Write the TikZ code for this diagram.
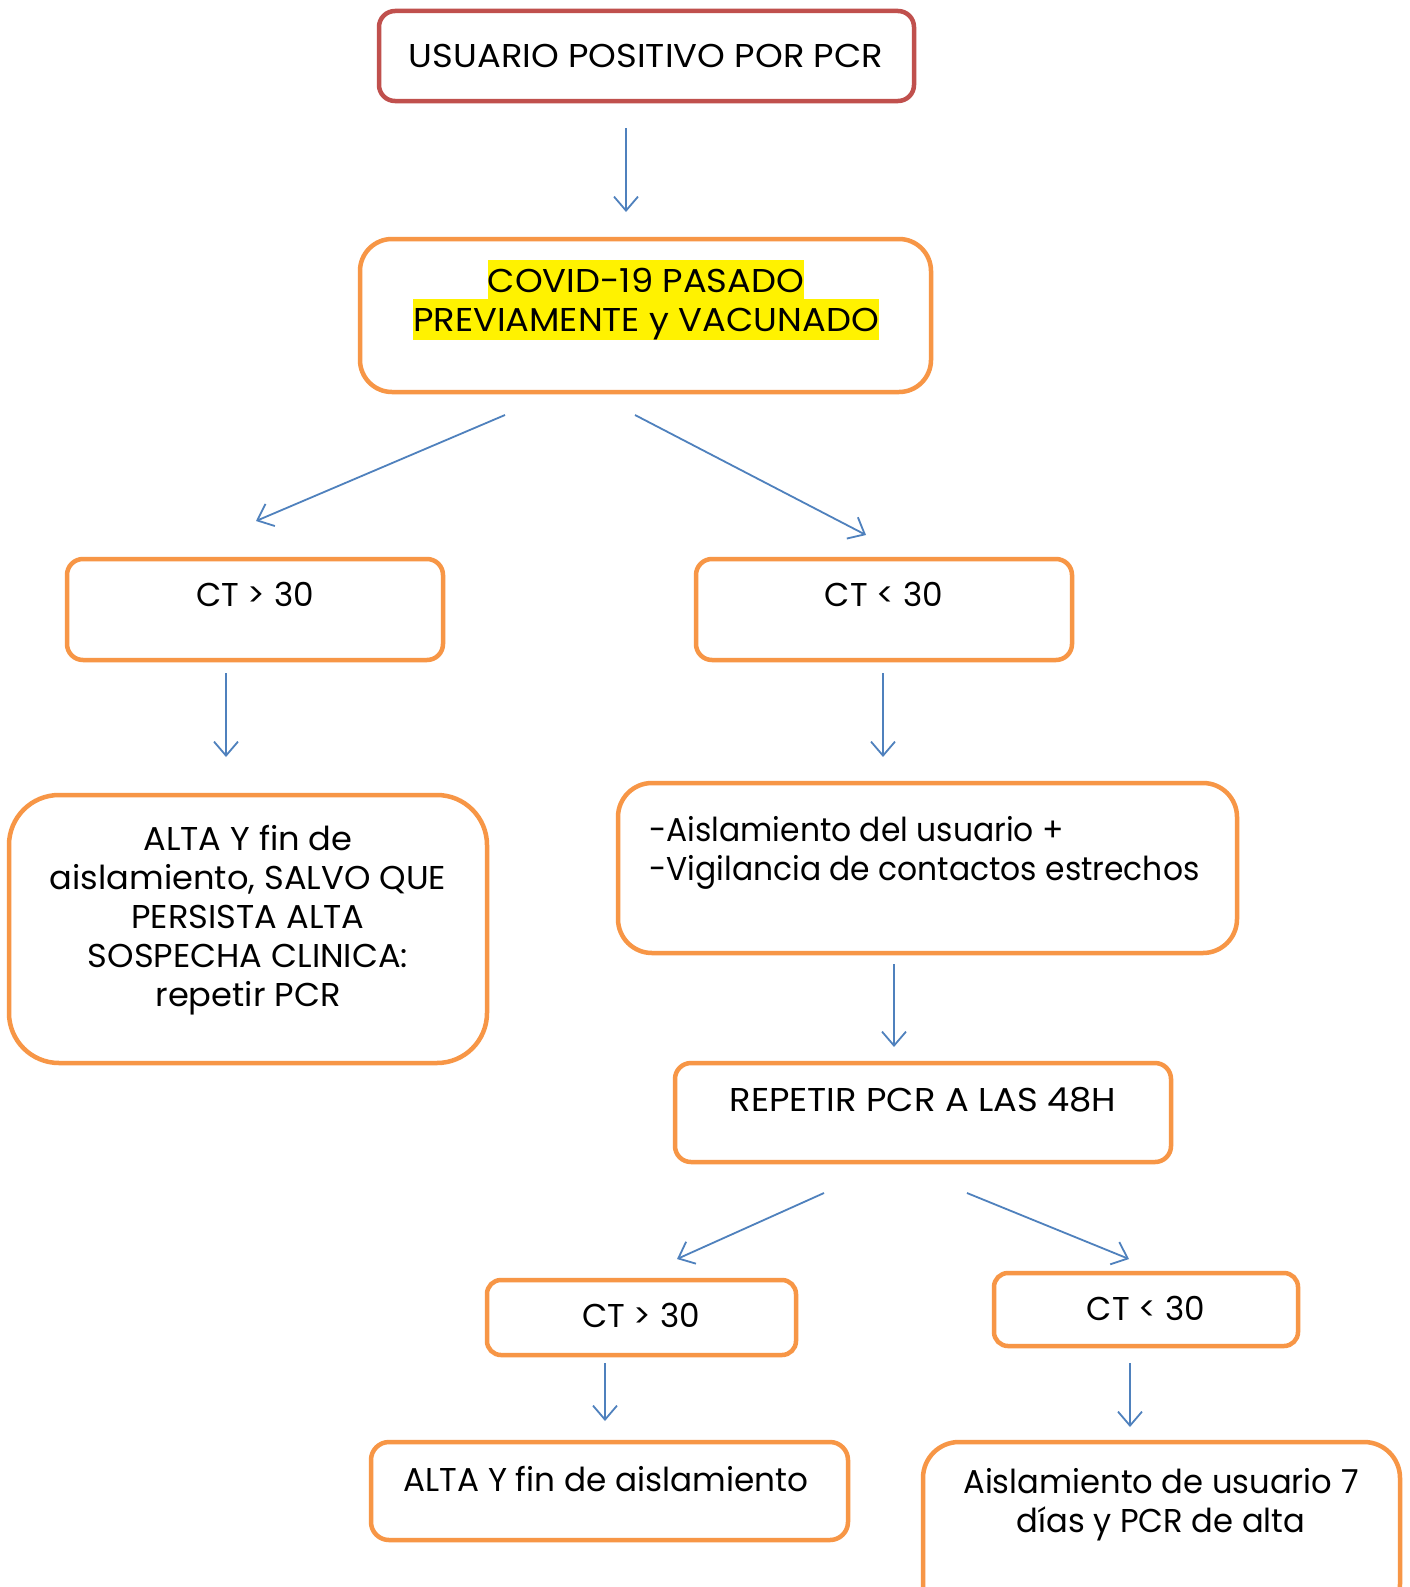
\documentclass[tikz,border=0pt]{standalone}
\usepackage{fontspec}
\setmainfont{Poppins}[FakeStretch=1.07]
\newfontfamily\fcaps{Poppins}[FakeStretch=1.07]
\newfontfamily\fmixA{Poppins}[FakeStretch=1.02]
\newfontfamily\fmixB{Poppins}[FakeStretch=0.99]
\newfontfamily\fmixC{Poppins}[FakeStretch=0.975]
\newfontfamily\flow{Poppins}[FakeStretch=0.95]
\usetikzlibrary{arrows.meta}
\definecolor{redbox}{HTML}{C0504D}
\definecolor{orangebox}{HTML}{F79646}
\definecolor{bluearrow}{HTML}{4F81BD}
\newcommand{\hlline}[1]{\colorbox{yellow}{\rule[-7pt]{0pt}{39pt}#1}}
\begin{document}
\begin{tikzpicture}[x=1pt,y=-1pt,
  box/.style={draw=orangebox, line width=4.5pt, rounded corners=#1, inner sep=0pt},
  box/.default=18pt,
  txt/.style={font=\fontsize{33}{39}\selectfont\fcaps, inner sep=0pt, align=center, anchor=base},
  conn/.style={draw=bluearrow, line width=1.8pt, -{Straight Barb[length=14pt,width=24pt,line width=1.8pt]}}]
\useasboundingbox (0,0) rectangle (1410,1587);
\fill[white] (0,0) rectangle (1410,1587);
\setlength{\fboxsep}{0pt}
% boxes
\draw[box=16pt, draw=redbox] (379,11) rectangle (914,101) node[pos=.5] (b1) {};
\draw[box=32pt] (360,239) rectangle (931,392) node[pos=.5] (b2) {};
\draw[box=16pt] (67,559) rectangle (443,660) node[pos=.5] (b3l) {};
\draw[box=16pt] (696,559) rectangle (1072,660) node[pos=.5] (b3r) {};
\draw[box=50pt] (9,795) rectangle (487,1063) node[pos=.5] (b4l) {};
\draw[box=34pt] (618,783) rectangle (1237,953) node[pos=.5] (b4r) {};
\draw[box=16pt] (675,1063) rectangle (1171,1162) node[pos=.5] (b5) {};
\draw[box=14pt] (487,1280) rectangle (796,1355) node[pos=.5] (b6l) {};
\draw[box=14pt] (994,1273) rectangle (1298,1346) node[pos=.5] (b6r) {};
\draw[box=18pt] (371,1442) rectangle (848,1540) node[pos=.5] (b7l) {};
\draw[box=36pt] (923,1442) rectangle (1400,1620) node[pos=.5] (b7r) {};
% texts (base anchor = baseline of the last line)
\node[txt] (t1) at (646,67) {USUARIO POSITIVO POR PCR};
\node[txt] (t2) at (646,331) {\hlline{COVID-19 PASADO}\\\hlline{PREVIAMENTE y VACUNADO}};
\node[txt] (t3l) at (255,606) {\fmixB CT > 30};
\node[txt] (t3r) at (884,606) {\fmixB CT < 30};
\node[txt] (t4l) at (248,1006) {\fmixA ALTA Y fin de\\\fmixA aislamiento, SALVO QUE\\\fmixA PERSISTA ALTA\\\fmixA SOSPECHA CLINICA:\\\fmixA repetir PCR};
\node[txt, align=left, anchor=base west] (t4r) at (649,880) {\flow -Aislamiento del usuario +\\\flow -Vigilancia de contactos estrechos};
\node[txt] (t5) at (923,1111) {REPETIR PCR A LAS 48H};
\node[txt] (t6l) at (641,1327) {\fmixB CT > 30};
\node[txt] (t6r) at (1146,1320) {\fmixB CT < 30};
\node[txt] (t7l) at (606,1491) {\fmixB ALTA Y fin de aislamiento};
\node[txt] (t7r) at (1161,1532) {\fmixC Aislamiento de usuario 7\\\fmixC días y PCR de alta};
% arrow endpoints
\coordinate (a1s) at (626,128); \coordinate (a1e) at (626,212);
\coordinate (a2s) at (505,415); \coordinate (a2e) at (256,521);
\coordinate (a3s) at (635,415); \coordinate (a3e) at (866,535);
\coordinate (a4s) at (226,673); \coordinate (a4e) at (226,757);
\coordinate (a5s) at (883,673); \coordinate (a5e) at (883,757);
\coordinate (a6s) at (894,964); \coordinate (a6e) at (894,1047);
\coordinate (a7s) at (824,1193); \coordinate (a7e) at (677,1259);
\coordinate (a8s) at (967,1193); \coordinate (a8e) at (1129,1259);
\coordinate (a9s) at (605,1363); \coordinate (a9e) at (605,1421);
\coordinate (a10s) at (1130,1363); \coordinate (a10e) at (1130,1427);
\foreach \i in {1,...,10} {\draw[conn] (a\i s) -- (a\i e);}
\end{tikzpicture}
\end{document}
